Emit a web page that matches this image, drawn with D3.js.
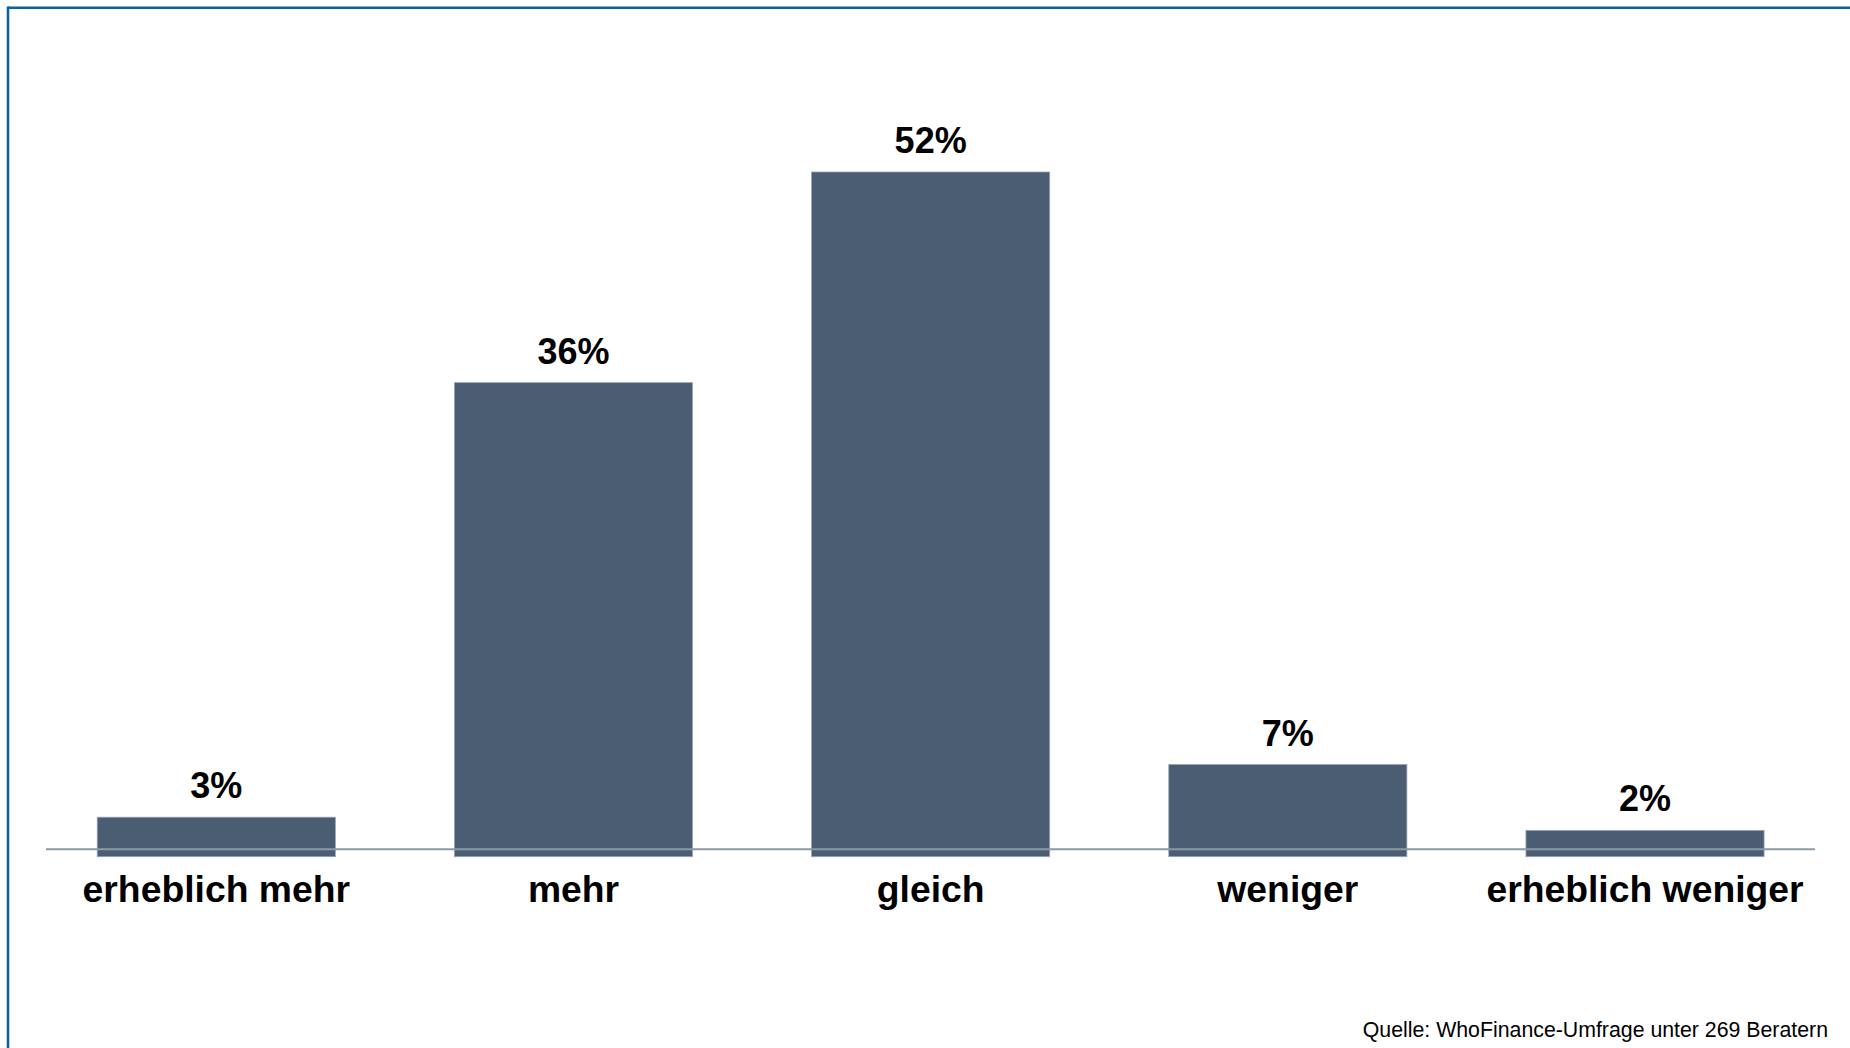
<!DOCTYPE html>
<html>
<head>
<meta charset="utf-8">
<script src="https://cdn.jsdelivr.net/npm/d3@7"></script>
<style>
  html, body { margin: 0; padding: 0; background: #fff; }
  svg { display: block; }
  text { font-family: "Liberation Sans", Arial, sans-serif; }
</style>
</head>
<body>
<svg id="chart" width="1850" height="1048"></svg>
<script>
const categories = ["erheblich mehr", "mehr", "gleich", "weniger", "erheblich weniger"];
const values = [3, 36, 52, 7, 2];
const valueLabels = ["3%", "36%", "52%", "7%", "2%"];
const sourceText = "Quelle: WhoFinance-Umfrage unter 269 Beratern";

const svg = d3.select("#chart");

// frame: top and left border lines
svg.append("line").attr("x1", 8).attr("x2", 1850).attr("y1", 7.8).attr("y2", 7.8)
  .attr("stroke", "#07649a").attr("stroke-width", 2.5);
svg.append("line").attr("x1", 8).attr("x2", 8).attr("y1", 6.5).attr("y2", 1048)
  .attr("stroke", "#07649a").attr("stroke-width", 2.5);

const x = d3.scaleBand().domain(categories).range([37.7, 1823.6])
  .paddingInner(1/3).paddingOuter(1/6);
const y = d3.scaleLinear().domain([0, 52]).range([856.7, 172]);

// bars
svg.append("g").selectAll("rect").data(values).join("rect")
  .attr("x", (d, i) => x(categories[i]))
  .attr("width", x.bandwidth())
  .attr("y", d => y(d))
  .attr("height", d => y(0) - y(d))
  .attr("fill", "#4b5d72")
  .attr("stroke", "#97a4b1")
  .attr("stroke-width", 0.8);

// baseline
svg.append("line").attr("x1", 46).attr("x2", 1815).attr("y1", 849.3).attr("y2", 849.3)
  .attr("stroke", "#8a9aa8").attr("stroke-width", 2);

// value labels
svg.append("g").selectAll("text").data(values).join("text")
  .attr("x", (d, i) => x(categories[i]) + x.bandwidth() / 2)
  .attr("y", d => y(d) - 19)
  .attr("text-anchor", "middle")
  .attr("font-size", 36).attr("font-weight", "bold").attr("fill", "#000")
  .text((d, i) => valueLabels[i]);

// category axis labels
const axis = d3.axisBottom(x).tickSize(0).tickPadding(0);
const gAxis = svg.append("g").attr("transform", "translate(0,874)").call(axis);
gAxis.select(".domain").remove();
gAxis.selectAll("text")
  .attr("dy", null).attr("y", 28)
  .attr("font-family", "'Liberation Sans', Arial, sans-serif")
  .attr("font-size", 37.3).attr("font-weight", "bold").attr("fill", "#000");

// source
svg.append("text").attr("x", 1828).attr("y", 1037)
  .attr("text-anchor", "end").attr("font-size", 21.3).attr("fill", "#000")
  .text(sourceText);
</script>
</body>
</html>
